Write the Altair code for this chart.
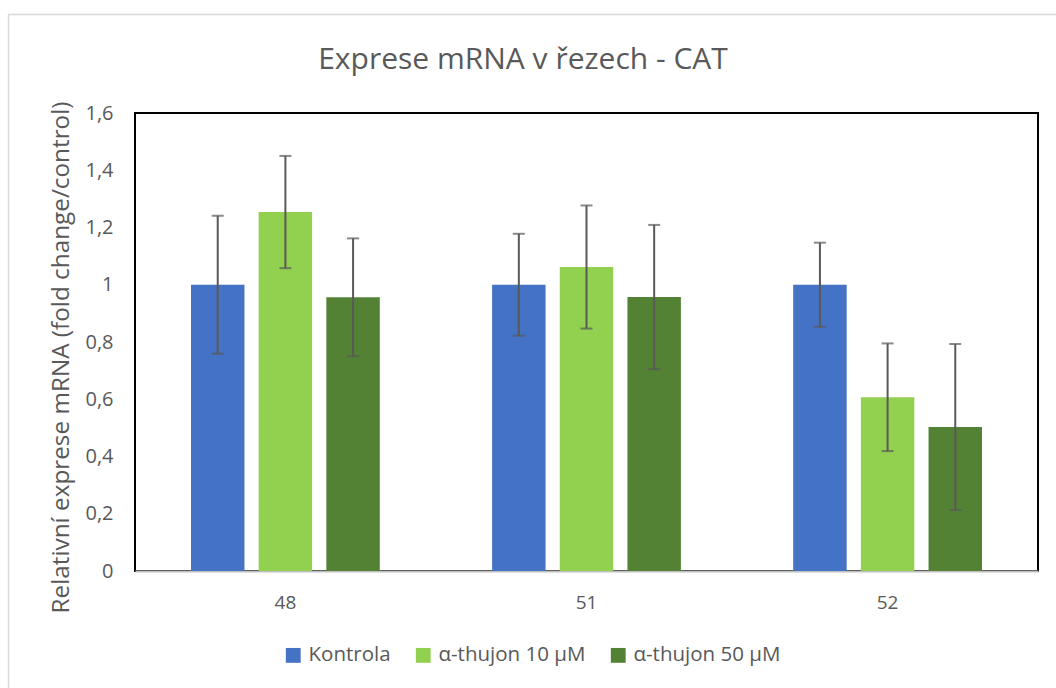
import altair as alt
import pandas as pd

title_text = "Exprese mRNA v řezech - CAT"
samples = ["48", "51", "52"]
series = ["Kontrola", "α-thujon 10 µM", "α-thujon 50 µM"]
colors = ["#4472C4", "#92D050", "#548235"]

values = {
    "Kontrola":        [1.0, 1.0, 1.0],
    "α-thujon 10 µM":  [1.254, 1.062, 0.607],
    "α-thujon 50 µM":  [0.956, 0.957, 0.503],
}
errors = {
    "Kontrola":        [0.241, 0.178, 0.147],
    "α-thujon 10 µM":  [0.196, 0.215, 0.188],
    "α-thujon 50 µM":  [0.206, 0.252, 0.290],
}

rows = []
for s in series:
    for i, smp in enumerate(samples):
        v = values[s][i]
        e = errors[s][i]
        rows.append({"sample": smp, "series": s, "value": v, "lo": v - e, "hi": v + e})
df = pd.DataFrame(rows)

FONT = "Open Sans"
GRAY = "#595959"

x = alt.X("sample:N", sort=samples, title=None,
          scale=alt.Scale(paddingInner=0.373, paddingOuter=0.186),
          axis=alt.Axis(labelAngle=0, labelFontSize=19, labelColor=GRAY, labelFont=FONT,
                        labelPadding=22, ticks=False, domainColor="#BFBFBF", domainWidth=2))
xoff = alt.XOffset("series:N", sort=series,
                   scale=alt.Scale(paddingInner=0.21, paddingOuter=0))
yscale = alt.Scale(domain=[0, 1.6], nice=False)
yaxis = alt.Axis(values=[0, 0.2, 0.4, 0.6, 0.8, 1.0, 1.2, 1.4, 1.6],
                 labelExpr="replace(format(datum.value, '.1~f'), '.', ',')",
                 labelFontSize=20, labelColor=GRAY, labelFont=FONT, labelPadding=22,
                 ticks=False, domain=False, grid=False,
                 title="Relativní exprese mRNA (fold change/control)",
                 titleFontSize=24.3, titleColor=GRAY, titleFont=FONT, titleFontWeight="normal",
                 titlePadding=11, titleY=244)

base = alt.Chart(df)

bars = base.mark_bar().encode(
    x=x, xOffset=xoff,
    y=alt.Y("value:Q", scale=yscale, axis=yaxis),
    color=alt.Color("series:N", sort=series,
                    scale=alt.Scale(domain=series, range=colors),
                    legend=alt.Legend(title=None, orient="none", legendX=148, legendY=532,
                                      direction="horizontal", columns=3,
                                      symbolType="square", symbolSize=220, symbolStrokeWidth=0,
                                      labelFontSize=20.5, labelColor=GRAY, labelFont=FONT,
                                      columnPadding=22, labelOffset=5)),
)

err = base.mark_rule(color=GRAY, strokeWidth=2).encode(
    x=x, xOffset=xoff,
    y=alt.Y("lo:Q", scale=yscale), y2="hi:Q",
)
cap_lo = base.mark_tick(color=GRAY, thickness=2, size=12, orient="horizontal").encode(
    x=x, xOffset=xoff, y=alt.Y("lo:Q", scale=yscale))
cap_hi = base.mark_tick(color=GRAY, thickness=2, size=12, orient="horizontal").encode(
    x=x, xOffset=xoff, y=alt.Y("hi:Q", scale=yscale))

one = pd.DataFrame({"t": [title_text]})
frame_left = alt.Chart(one).mark_rule(color="#D9D9D9", strokeWidth=1.5).encode(
    x=alt.value(-126.5), y=alt.value(-98.5), y2=alt.value(575))
frame_top = alt.Chart(one).mark_rule(color="#D9D9D9", strokeWidth=1.5).encode(
    x=alt.value(-127), x2=alt.value(921), y=alt.value(-98.5))
title = alt.Chart(one).mark_text(fontSize=30, font=FONT, color=GRAY, align="center",
                                  baseline="middle").encode(
    text="t:N", x=alt.value(388), y=alt.value(-53))

chart = alt.layer(frame_left, frame_top, title, bars, err, cap_lo, cap_hi).properties(
    width=903, height=458,
    autosize=alt.AutoSizeParams(type="none"),
    padding={"left": 135, "top": 113, "right": 18, "bottom": 117},
).configure(background="white").configure_view(stroke="black", strokeWidth=2)

chart.save("out.html", embed_options={"renderer": "svg", "actions": False})
